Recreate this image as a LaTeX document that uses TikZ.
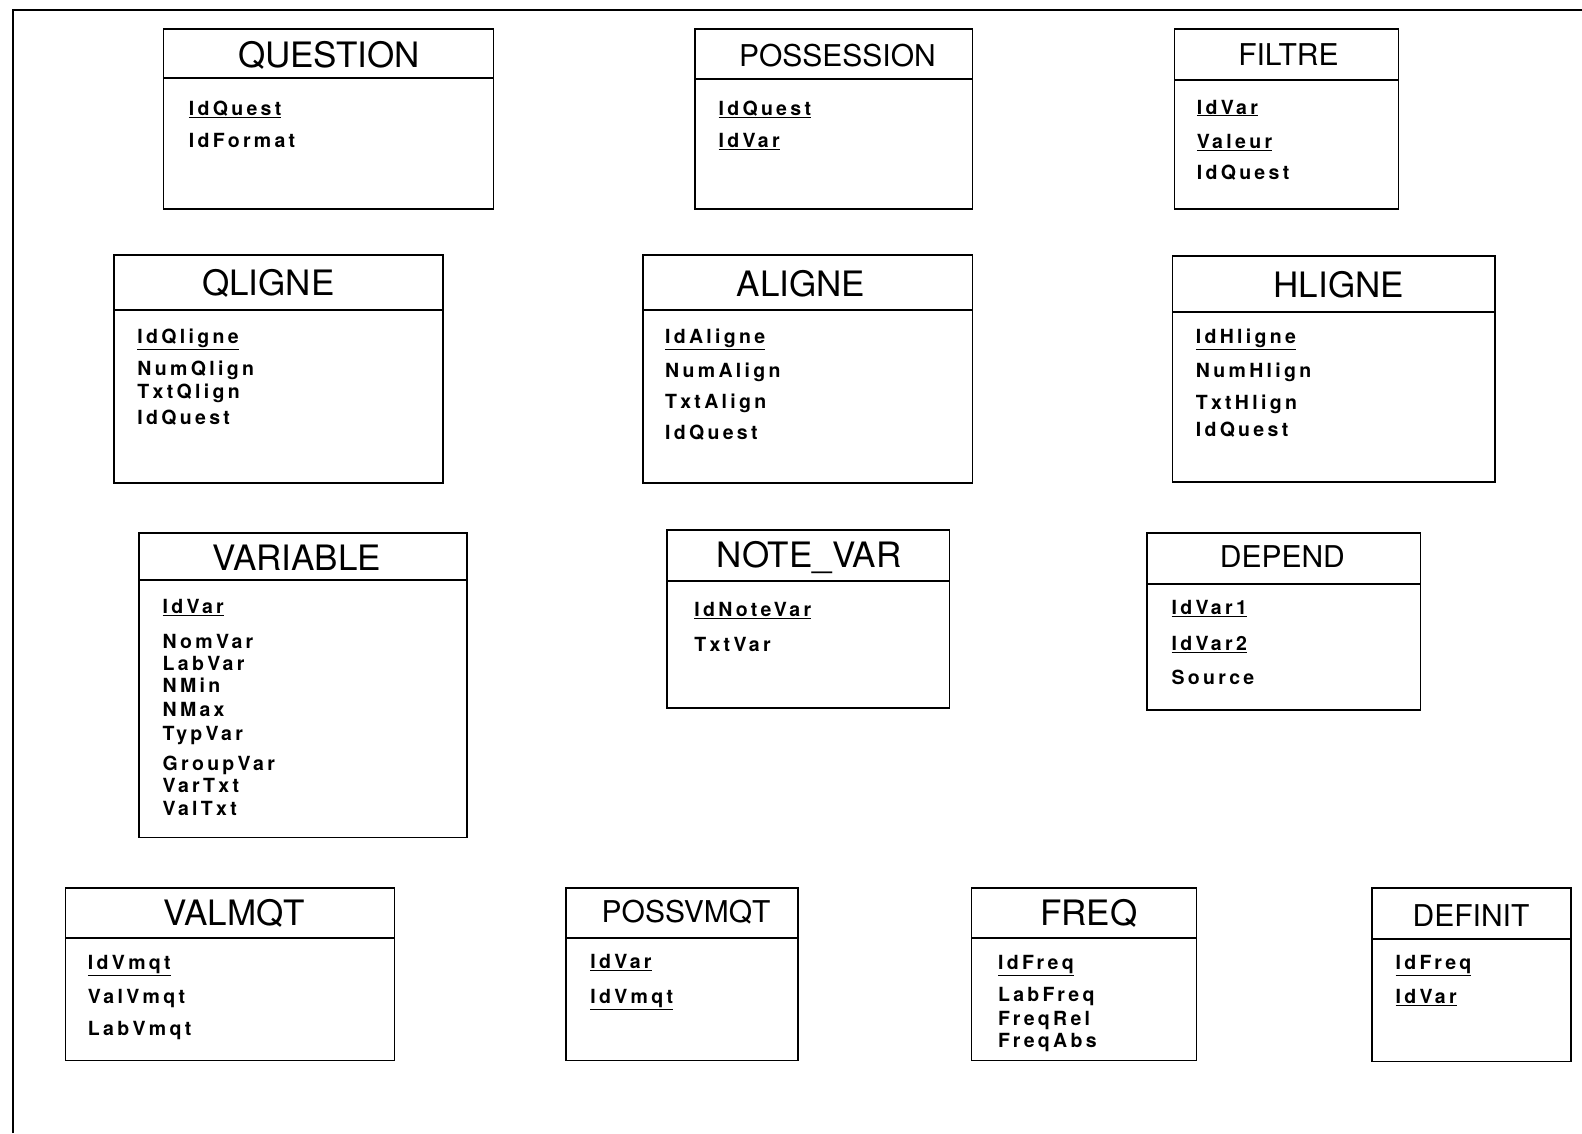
\documentclass[tikz,border=0pt]{standalone}
\usepackage{fontspec}
\newfontfamily\ttlfont{TeX Gyre Heros}
\newfontfamily\fldfont[LetterSpace=17]{TeX Gyre Heros Bold}
\newcommand\pk[1]{\underline{#1}}
\begin{document}
\begin{tikzpicture}[x=1.00893pt,y=-1.00893pt,
  tbox/.style={line width=1.7pt},
  frame/.style={line width=1.4pt},
  ttl/.style={font=\ttlfont\fontsize{35}{35}\selectfont, anchor=center, inner sep=0pt, yshift=-1pt},
  ttls/.style={font=\ttlfont\fontsize{30}{30}\selectfont, anchor=center, inner sep=0pt, yshift=-1pt},
  fld/.style={font=\fldfont\fontsize{19.5}{20}\selectfont, anchor=mid west, inner sep=0pt, yshift=-5pt}]
\useasboundingbox (0,0) rectangle (1568,1123);
\fill[white] (0,0) rectangle (1568,1123);
% frame (top and left only)
\draw[frame] (13,1123) -- (13,10) -- (1568,10);

% QUESTION
\draw[tbox] (162,29) rectangle (489,207);
\draw[tbox] (162,77) -- (489,77);
\node[ttl] (tq) at (326,54) {QUESTION};
\node[fld] (q1) at (187,107) {\pk{IdQuest}};
\node[fld] (q2) at (187,139) {IdFormat};

% POSSESSION
\draw[tbox] (689,29) rectangle (964,207);
\draw[tbox] (689,78) -- (964,78);
\node[ttls] (tp) at (830,54) {POSSESSION};
\node[fld] (p1) at (712,107) {\pk{IdQuest}};
\node[fld] (p2) at (712,139) {\pk{IdVar}};

% FILTRE
\draw[tbox] (1164,29) rectangle (1386,207);
\draw[tbox] (1164,79) -- (1386,79);
\node[ttls] (tf) at (1277,53) {FILTRE};
\node[fld] (fi1) at (1186,106) {\pk{IdVar}};
\node[fld] (fi2) at (1186,140) {\pk{Valeur}};
\node[fld] (fi3) at (1186,171) {IdQuest};

% QLIGNE
\draw[tbox] (113,253) rectangle (439,479);
\draw[tbox] (113,307) -- (439,307);
\node[ttl] (tql) at (266,280) {QLIGNE};
\node[fld] (ql1) at (136,333) {\pk{IdQligne}};
\node[fld] (ql2) at (136,365) {NumQlign};
\node[fld] (ql3) at (136,388) {TxtQlign};
\node[fld] (ql4) at (136,414) {IdQuest};

% ALIGNE
\draw[tbox] (637,253) rectangle (964,479);
\draw[tbox] (637,307) -- (964,307);
\node[ttl] (tal) at (794,280) {ALIGNE};
\node[fld] (al1) at (659,333) {\pk{IdAligne}};
\node[fld] (al2) at (659,367) {NumAlign};
\node[fld] (al3) at (659,398) {TxtAlign};
\node[fld] (al4) at (659,429) {IdQuest};

% HLIGNE
\draw[tbox] (1162,254) rectangle (1482,478);
\draw[tbox] (1162,309) -- (1482,309);
\node[ttl] (thl) at (1327,281) {HLIGNE};
\node[fld] (hl1) at (1185,333) {\pk{IdHligne}};
\node[fld] (hl2) at (1185,367) {NumHlign};
\node[fld] (hl3) at (1185,399) {TxtHlign};
\node[fld] (hl4) at (1185,426) {IdQuest};

% VARIABLE
\draw[tbox] (138,528) rectangle (463,830);
\draw[tbox] (138,575) -- (463,575);
\node[ttl] (tv) at (294,552) {VARIABLE};
\node[fld] (v1) at (161,601) {\pk{IdVar}};
\node[fld] (v2) at (161,636) {NomVar};
\node[fld] (v3) at (161,657) {LabVar};
\node[fld] (v4) at (161,679) {NMin};
\node[fld] (v5) at (161,703) {NMax};
\node[fld] (v6) at (161,727) {TypVar};
\node[fld] (v7) at (161,757) {GroupVar};
\node[fld] (v8) at (161,778) {VarTxt};
\node[fld] (v9) at (161,801) {ValTxt};

% NOTE_VAR
\draw[tbox] (661,525) rectangle (941,702);
\draw[tbox] (661,576) -- (941,576);
\node[ttl] (tn) at (802,552) {NOTE\_VAR};
\node[fld] (n1) at (688,604) {\pk{IdNoteVar}};
\node[fld] (n2) at (688,639) {TxtVar};

% DEPEND
\draw[tbox] (1137,528) rectangle (1408,704);
\draw[tbox] (1137,579) -- (1408,579);
\node[ttls] (td) at (1271,551) {DEPEND};
\node[fld] (d1) at (1161,602) {\pk{IdVar1}};
\node[fld] (d2) at (1161,638) {\pk{IdVar2}};
\node[fld] (d3) at (1161,671) {Source};

% VALMQT
\draw[tbox] (65,880) rectangle (391,1051);
\draw[tbox] (65,930) -- (391,930);
\node[ttl] (tvm) at (232,904) {VALMQT};
\node[fld] (vm1) at (87,954) {\pk{IdVmqt}};
\node[fld] (vm2) at (87,988) {ValVmqt};
\node[fld] (vm3) at (87,1019) {LabVmqt};

% POSSVMQT
\draw[tbox] (561,880) rectangle (791,1051);
\draw[tbox] (561,930) -- (791,930);
\node[ttls] (tpv) at (680,903) {POSSVMQT};
\node[fld] (pv1) at (585,953) {\pk{IdVar}};
\node[fld] (pv2) at (585,988) {\pk{IdVmqt}};

% FREQ
\draw[tbox] (963,880) rectangle (1186,1051);
\draw[tbox] (963,930) -- (1186,930);
\node[ttl] (tfr) at (1079,904) {FREQ};
\node[fld] (fr1) at (989,954) {\pk{IdFreq}};
\node[fld] (fr2) at (989,986) {LabFreq};
\node[fld] (fr3) at (989,1009) {FreqRel};
\node[fld] (fr4) at (989,1031) {FreqAbs};

% DEFINIT
\draw[tbox] (1360,880) rectangle (1557,1052);
\draw[tbox] (1360,931) -- (1557,931);
\node[ttls] (tdf) at (1458,906) {DEFINIT};
\node[fld] (df1) at (1383,954) {\pk{IdFreq}};
\node[fld] (df2) at (1383,988) {\pk{IdVar}};
\end{tikzpicture}
\end{document}
